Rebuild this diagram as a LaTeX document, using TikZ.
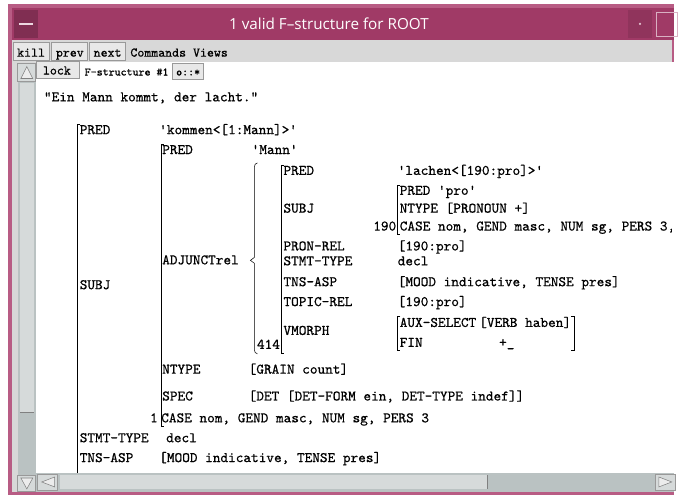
\documentclass[tikz,border=0pt]{standalone}
\usepackage{fontspec}
\usepackage{xcolor}
\usepackage{tikz}
\setmonofont{Latin Modern Mono}[FakeBold=0.6]
\newfontfamily\titlefont{Open Sans}
\definecolor{framepink}{RGB}{184,92,132}
\definecolor{titlebar}{RGB}{160,58,102}
\definecolor{panelgray}{RGB}{216,216,216}
\definecolor{troughgray}{RGB}{186,194,194}
\definecolor{thumbgray}{RGB}{214,218,218}
\tikzset{
  txt/.style={anchor=base west, inner sep=0pt, font=\fontsize{11}{12}\ttfamily},
  rtxt/.style={txt, anchor=base east},
  menutxt/.style={anchor=base west, inner sep=0pt, font=\fontsize{10}{11}\ttfamily},
  tooltxt/.style={menutxt, font=\fontsize{8.6}{10}\ttfamily},
  btn/.style={draw=gray!80, fill=panelgray!60, line width=0.6pt},
  arrowbtn/.style={draw=gray!80, fill=thumbgray, line width=0.6pt},
}

\begin{document}
\begin{tikzpicture}[x=0.75pt,y=-0.75pt]

\fill[white] (0,0) rectangle (678,502);
\fill[framepink] (8,4) rectangle (678,498);
\fill[titlebar] (12,8) rectangle (678,40);
\fill[titlebar!80!black] (14,10) rectangle (38,38);
\draw[white!80!titlebar, line width=1.5pt] (19,24) -- (33,24);
\fill[titlebar!90!black] (632,10) rectangle (656,38);
\fill[white!70!titlebar] (644,24) circle (1.2);
\draw[white!60!titlebar] (660,12) rectangle (682,36);
\node[text=white, font=\titlefont\fontsize{11.5}{13}\selectfont] (title) at (331,24) {1 valid F–structure for ROOT};

\fill[panelgray] (12,40) rectangle (676,495);
\fill[white] (36,62) rectangle (678,476);

\draw[btn] (13,43) rectangle (50,61);
\node[menutxt] (kill) at (17,57) {kill};
\draw[btn] (52,43) rectangle (88,61);
\node[menutxt] (prev) at (56,57) {prev};
\draw[btn] (90,43) rectangle (126,61);
\node[menutxt] (next) at (94,57) {next};
\node[menutxt] (cmds) at (131,57) {Commands};
\node[menutxt] (views) at (194,57) {Views};

\draw[btn] (37,62) rectangle (80,79);
\node[menutxt] (lock) at (43,75) {lock};
\node[tooltxt] (fsnum) at (85,76) {F-structure \#1};
\draw[btn] (173,64) rectangle (205,80);
\node[tooltxt] (proj) at (177,76) {o::*};

\fill[troughgray] (18,64) rectangle (36,495);
\fill[thumbgray] (20,84) rectangle (34,415);
\draw[gray] (20,415) -- (34,415);
\draw[arrowbtn] (18,64) rectangle (36,82);
\draw[gray, fill=white!85!gray] (21,79) -- (27,67) -- (33,79) -- cycle;
\draw[arrowbtn] (18,478) rectangle (36,494);
\draw[gray, fill=white!85!gray] (21,481) -- (27,492) -- (33,481) -- cycle;

\fill[troughgray] (36,476) rectangle (678,495);
\fill[thumbgray] (60,478) rectangle (490,492);
\draw[gray] (490,478) -- (490,492);
\draw[arrowbtn] (38,477) rectangle (58,493);
\draw[gray, fill=white!85!gray] (55,480) -- (42,485) -- (55,490) -- cycle;
\draw[arrowbtn] (660,477) rectangle (680,493);
\draw[gray, fill=white!85!gray] (663,480) -- (676,485) -- (663,490) -- cycle;

\begin{scope}
\clip (37,82) rectangle (676,475);
\node[txt] (sent) at (44,102) {"Ein Mann kommt, der lacht."};

\node[txt] (pred) at (80,135) {PRED};
\node[txt] (predv) at (160,135) {'kommen<[1:Mann]>'};
\node[txt] (spred) at (163,155) {PRED};
\node[txt] (spredv) at (253,155) {'Mann'};
\node[txt] (apred) at (285,176) {PRED};
\node[txt] (apredv) at (400,176) {'lachen<[190:pro]>'};
\node[txt] (ppred) at (402,196) {PRED 'pro'};
\node[txt] (asubj) at (285,214) {SUBJ};
\node[txt] (pntype) at (402,214) {NTYPE [PRONOUN +]};
\node[rtxt] (i190) at (399,232) {190};
\node[txt] (pcase) at (402,232) {CASE nom, GEND masc, NUM sg, PERS 3,};
\node[txt] (pronrel) at (285,252) {PRON-REL};
\node[txt] (pronrelv) at (400,252) {[190:pro]};
\node[txt] (astmt) at (285,267) {STMT-TYPE};
\node[txt] (astmtv) at (400,267) {decl};
\node[txt] (adj) at (163,266) {ADJUNCTrel};
\node[txt] (subj) at (80,291) {SUBJ};
\node[txt] (atns) at (285,288) {TNS-ASP};
\node[txt] (atnsv) at (400,288) {[MOOD indicative, TENSE pres]};
\node[txt] (topic) at (285,308) {TOPIC-REL};
\node[txt] (topicv) at (400,308) {[190:pro]};
\node[txt] (vmorph) at (285,337) {VMORPH};
\node[txt] (aux) at (402,329) {AUX-SELECT};
\node[txt] (auxv) at (482,329) {[VERB haben]};
\node[txt] (fin) at (402,349) {FIN};
\node[txt] (finv) at (502,349) {+\_};
\node[rtxt] (i414) at (282,351) {414};
\node[txt] (ntype) at (163,376) {NTYPE};
\node[txt] (ntypev) at (250,376) {[GRAIN count]};
\node[txt] (spec) at (163,403) {SPEC};
\node[txt] (specv) at (250,403) {[DET [DET-FORM ein, DET-TYPE indef]]};
\node[rtxt] (i1) at (159,425) {1};
\node[txt] (case) at (162,425) {CASE nom, GEND masc, NUM sg, PERS 3};
\node[txt] (stmt) at (80,445) {STMT-TYPE};
\node[txt] (stmtv) at (167,445) {decl};
\node[txt] (tns) at (80,465) {TNS-ASP};
\node[txt] (tnsv) at (160,465) {[MOOD indicative, TENSE pres]};

\draw (81,125) -- (78,125) -- (78,476);
\draw (165,145) -- (162,145) -- (162,429) -- (165,429);
\draw (259,164) to[out=180,in=90] (256,168) -- (256,259) -- (252,262) -- (256,265) -- (256,352) to[out=-90,in=180] (259,356);
\draw (286,166) -- (283,166) -- (283,355) -- (286,355);
\draw (403,186) -- (400,186) -- (400,236) -- (403,236);
\draw (403,318) -- (400,318) -- (400,352) -- (403,352);
\draw (575,318) -- (578,318) -- (578,352) -- (575,352);
\end{scope}

\end{tikzpicture}
\end{document}
